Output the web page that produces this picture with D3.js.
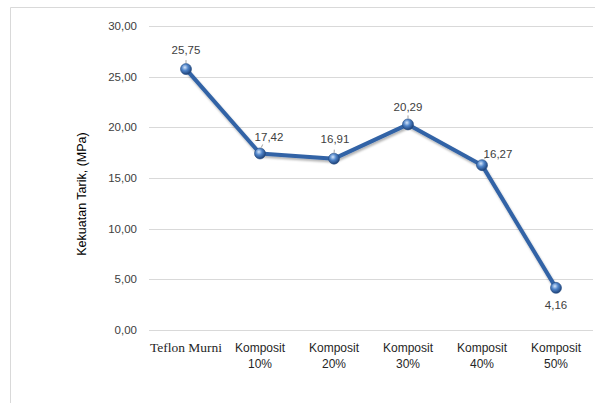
<!DOCTYPE html>
<html>
<head>
<meta charset="utf-8">
<script src="https://cdn.jsdelivr.net/npm/d3@7"></script>
<style>
  body { margin: 0; background: #fff; }
  svg { display: block; }
</style>
</head>
<body>
<svg id="chart" width="595" height="403"></svg>
<script>
const categories = ["Teflon Murni", "Komposit 10%", "Komposit 20%", "Komposit 30%", "Komposit 40%", "Komposit 50%"];
const values = [25.75, 17.42, 16.91, 20.29, 16.27, 4.16];
const yTicks = [0, 5, 10, 15, 20, 25, 30];
// label placement relative to each point: dx, dy
const labelPos = [[0, -19], [9, -17], [1, -20], [0, -17], [16, -11], [0, 17]];

const svg = d3.select("#chart");
const margin = { top: 26, right: 2, bottom: 73, left: 149 };
const width = +svg.attr("width") - margin.left - margin.right;
const height = +svg.attr("height") - margin.top - margin.bottom;
const fmt = v => v.toFixed(2).replace(".", ",");

// chart frame (only left and top edges visible)
svg.append("path")
  .attr("d", "M10.5,403 V7.5 H595")
  .attr("fill", "none")
  .attr("stroke", "#d9d9d9")
  .attr("stroke-width", 1);

const defs = svg.append("defs");
const grad = defs.append("radialGradient")
  .attr("id", "ball")
  .attr("cx", "40%").attr("cy", "35%").attr("r", "65%");
grad.append("stop").attr("offset", "0%").attr("stop-color", "#d6e6fa");
grad.append("stop").attr("offset", "45%").attr("stop-color", "#4f84c9");
grad.append("stop").attr("offset", "100%").attr("stop-color", "#1d4279");

const shadow = defs.append("filter").attr("id", "shadow")
  .attr("x", "-10%").attr("y", "-10%").attr("width", "120%").attr("height", "120%");
shadow.append("feDropShadow")
  .attr("dx", 1).attr("dy", 2).attr("stdDeviation", 1.2)
  .attr("flood-color", "#000").attr("flood-opacity", 0.3);

const g = svg.append("g")
  .attr("transform", `translate(${margin.left},${margin.top})`);

const x = d3.scaleBand().domain(categories).range([0, width]);
const y = d3.scaleLinear().domain([0, 30]).range([height, 0]);

// gridlines
g.selectAll(".grid")
  .data(yTicks)
  .join("line")
  .attr("x1", 0)
  .attr("x2", width)
  .attr("y1", d => Math.round(y(d)) + 0.5)
  .attr("y2", d => Math.round(y(d)) + 0.5)
  .attr("stroke", "#d9d9d9")
  .attr("stroke-width", 1);

// y axis labels
g.selectAll(".ytick")
  .data(yTicks)
  .join("text")
  .attr("x", -12)
  .attr("y", d => y(d))
  .attr("dy", "0.35em")
  .attr("text-anchor", "end")
  .attr("font-family", "Liberation Sans, Arial, sans-serif")
  .attr("font-size", 11.5)
  .attr("fill", "#404040")
  .text(fmt);

// x axis labels
g.selectAll(".xtick")
  .data(categories)
  .join("text")
  .attr("x", d => x(d) + x.bandwidth() / 2)
  .attr("y", height + 22)
  .attr("text-anchor", "middle")
  .attr("font-size", 12)
  .attr("fill", "#262626")
  .each(function (d, i) {
    const t = d3.select(this);
    if (i === 0) {
      t.attr("font-family", "Liberation Serif, Times New Roman, serif")
        .attr("font-size", 13.5)
        .text(d);
    } else {
      t.attr("font-family", "Liberation Sans, Arial, sans-serif");
      const parts = d.split(" ");
      t.append("tspan").attr("x", x(d) + x.bandwidth() / 2).text(parts[0]);
      t.append("tspan").attr("x", x(d) + x.bandwidth() / 2).attr("dy", 16).text(parts[1]);
    }
  });

// y axis title
svg.append("text")
  .attr("transform", `translate(86,194) rotate(-90)`)
  .attr("text-anchor", "middle")
  .attr("font-family", "Liberation Sans, Arial, sans-serif")
  .attr("font-size", 12.5)
  .attr("fill", "#000")
  .text("Kekuatan Tarik, (MPa)");

const cx = (d, i) => x(categories[i]) + x.bandwidth() / 2;

// the line
const line = d3.line()
  .x((d, i) => cx(d, i))
  .y(d => y(d));

g.append("path")
  .datum(values)
  .attr("d", line)
  .attr("fill", "none")
  .attr("stroke", "#3263a6")
  .attr("stroke-width", 4)
  .attr("stroke-linejoin", "round")
  .attr("filter", "url(#shadow)");

// leader ticks between labels and points
g.selectAll(".leader")
  .data(values)
  .join("line")
  .attr("x1", (d, i) => cx(d, i) + labelPos[i][0] * 0.3)
  .attr("x2", (d, i) => cx(d, i) + labelPos[i][0] * 0.15)
  .attr("y1", (d, i) => y(d) + (labelPos[i][1] < 0 ? -9 : 9))
  .attr("y2", (d, i) => y(d) + (labelPos[i][1] < 0 ? -6 : 6))
  .attr("stroke", "#8c8c8c")
  .attr("stroke-width", 0.8)
  .attr("display", (d, i) => i === 5 ? "none" : null);

// markers
g.selectAll(".pt")
  .data(values)
  .join("circle")
  .attr("cx", (d, i) => cx(d, i))
  .attr("cy", d => y(d))
  .attr("r", 5.5)
  .attr("fill", "url(#ball)")
  .attr("stroke", "#244a80")
  .attr("stroke-width", 0.6);

// data labels
g.selectAll(".lbl")
  .data(values)
  .join("text")
  .attr("x", (d, i) => cx(d, i) + labelPos[i][0])
  .attr("y", (d, i) => y(d) + labelPos[i][1])
  .attr("dy", "0.35em")
  .attr("text-anchor", "middle")
  .attr("font-family", "Liberation Sans, Arial, sans-serif")
  .attr("font-size", 11.5)
  .attr("fill", "#404040")
  .text(fmt);
</script>
</body>
</html>
